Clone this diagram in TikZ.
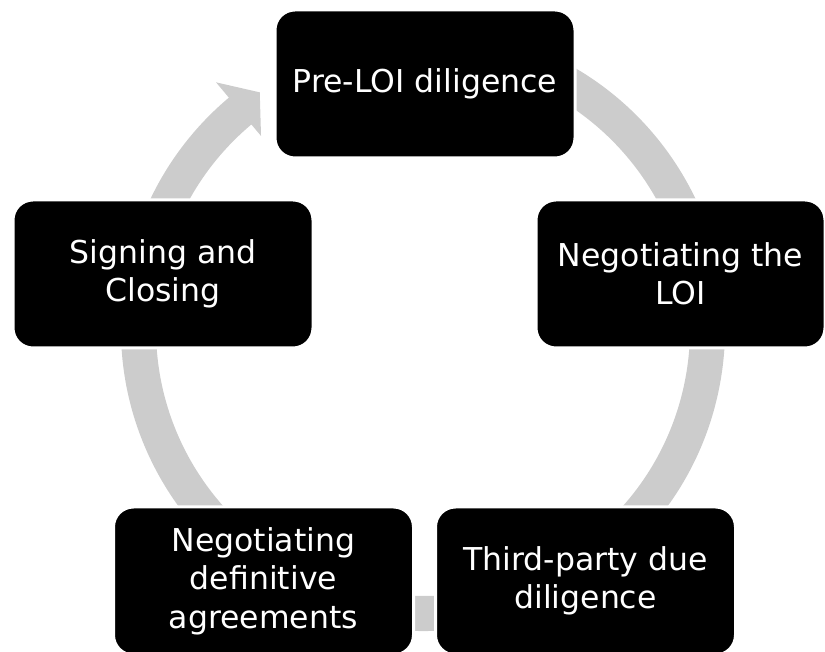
\documentclass[tikz,border=0pt]{standalone}
\usepackage{fontspec}
\setmainfont{DejaVu Sans}
\definecolor{ringgray}{RGB}{204,204,204}
\tikzset{
  stagebox/.style={draw=white, line width=3pt, fill=black, text=white,
    rounded corners=20pt, minimum width=300pt, minimum height=148pt,
    align=center, inner sep=0pt,
    font=\fontsize{31.5}{38.5}\selectfont},
  ringshape/.style={fill=ringgray, draw=none}
}
\begin{document}
\begin{tikzpicture}[x=1pt,y=1pt]
\clip (0,0) rectangle (825,652);
\useasboundingbox (0,0) rectangle (825,652);
% ring with arrowhead
\begin{scope}[shift={(423,323)}]
\fill[ringshape] (80:302pt) arc[start angle=80, end angle=-230, radius=302pt]
  -- (-230:322pt) -- (-235.4:287.5pt) -- (-230:252pt) -- (-230:267pt)
  arc[start angle=-230, end angle=80, radius=267pt] -- cycle;
\end{scope}
% stages
\node[stagebox] (pre) at (425,568) {Pre-LOI diligence};
\node[stagebox, minimum width=289pt] (loi) at (680.5,378) {Negotiating the\\LOI};
\node[stagebox] (third) at (585.5,71) {Third-party due\\diligence};
\node[stagebox] (def) at (263.5,71) {Negotiating\\definitive\\agreements};
\node[stagebox] (sign) at (163,378) {Signing and\\Closing};
\end{tikzpicture}
\end{document}
